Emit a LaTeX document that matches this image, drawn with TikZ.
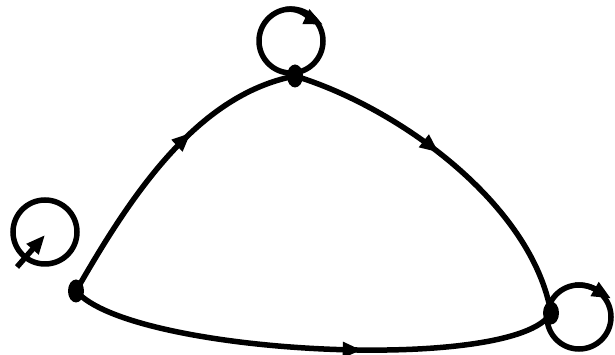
\documentclass[tikz,border=0pt]{standalone}
\usetikzlibrary{arrows.meta,shapes.geometric,decorations.markings,calc}
\tikzset{
  vtx/.style={ellipse,fill=black,inner sep=0pt,minimum width=16pt,minimum height=23pt},
  edge/.style={line width=5.5pt},
  tip/.tip={Triangle[length=19pt,width=15pt]},
  midarrow/.style={postaction={decorate},decoration={markings,
    mark=at position #1 with {\arrow{tip}}}}
}
\begin{document}
\begin{tikzpicture}[x=1pt,y=1pt]
\useasboundingbox (0,0) rectangle (615,355);
\node[vtx] (top) at (295,279) {};
\node[vtx] (left) at (76,64) {};
\node[vtx] (right) at (551,42) {};
\coordinate (ctop) at (291,314);
\coordinate (cleft) at (45,123);
\coordinate (cright) at (579,38);
\coordinate (tail) at (17,88);
\coordinate (head) at (45,120);
% edges of the triangle
\draw[edge,midarrow=0.62] (left.center) .. controls (131,160) and (197,260) .. (top.center);
\draw[edge,midarrow=0.45] (top.center) .. controls (400,247) and (532,150) .. (right.center);
\draw[edge,midarrow=0.6] (left.center) .. controls (131,0) and (516,-19) .. (right.center);
% loops
\foreach \c in {ctop,cleft,cright}
  \draw[edge] (\c) circle (32);
\draw[edge,-tip] ($(ctop)+(100:32)$) .. controls +(10:15) and +(155:12) .. ($(ctop)+(27:36)$);
\draw[edge,-tip] ($(cright)+(97:32)$) .. controls +(7:15) and +(150:12) .. ($(cright)+(30:37)$);
\draw[edge,-tip] (tail) -- (head);
\end{tikzpicture}
\end{document}
